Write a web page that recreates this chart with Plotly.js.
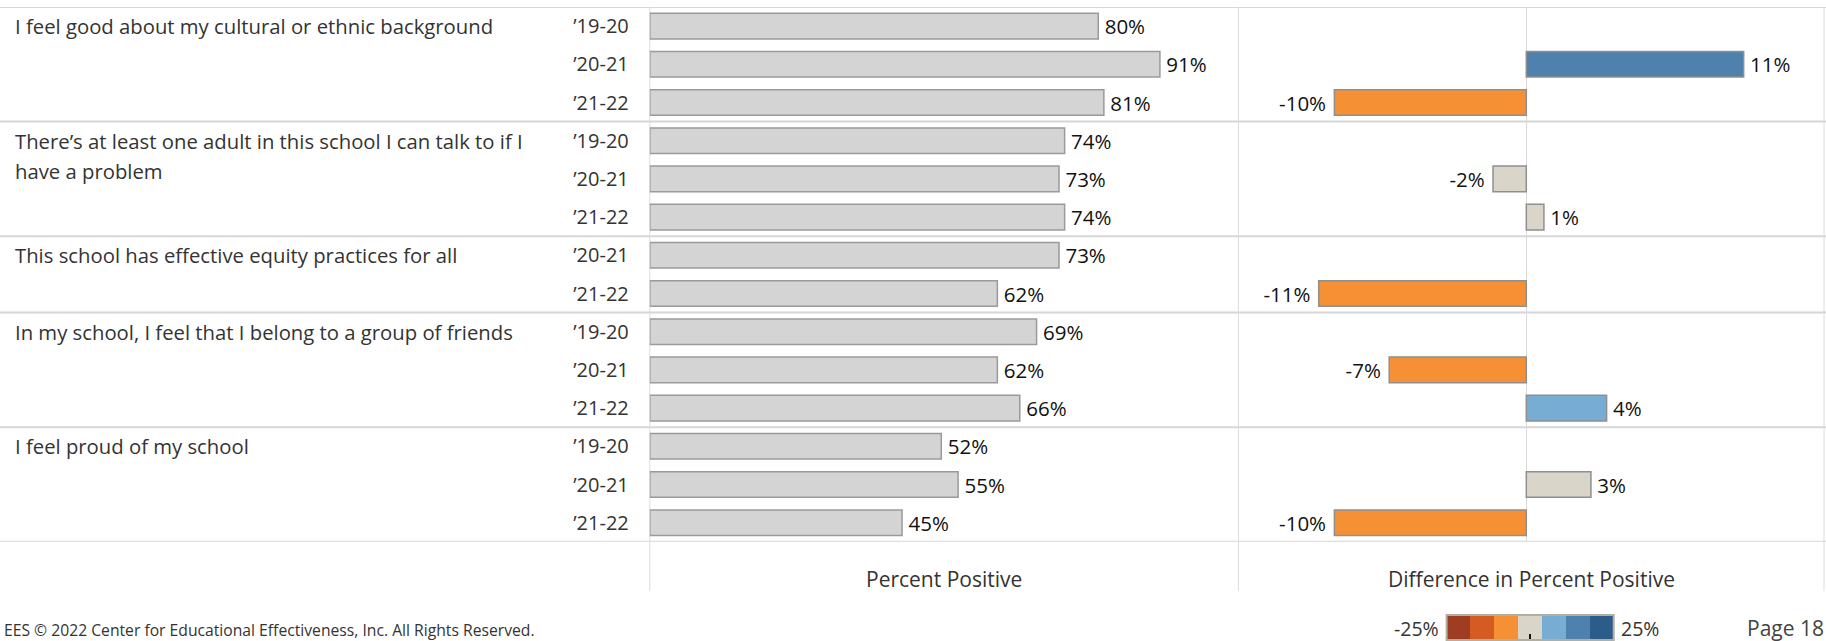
<!DOCTYPE html>
<html>
<head>
<meta charset="utf-8">
<script src="https://cdn.plot.ly/plotly-3.0.1.min.js"></script>
<style>html,body{margin:0;padding:0;background:#fff;}#chart{width:1826px;height:641px;}</style>
</head>
<body>
<div id="chart"></div>
<script>
// ---------- data ----------
const questions = [
  "I feel good about my cultural or ethnic background",
  "There’s at least one adult in this school I can talk to if I have a problem",
  "This school has effective equity practices for all",
  "In my school, I feel that I belong to a group of friends",
  "I feel proud of my school"
];
const yearLabels = [
  ["’19-20", "’20-21", "’21-22"],
  ["’19-20", "’20-21", "’21-22"],
  ["’20-21", "’21-22"],
  ["’19-20", "’20-21", "’21-22"],
  ["’19-20", "’20-21", "’21-22"]
];
const percentPositive = [
  [80, 91, 81],
  [74, 73, 74],
  [73, 62],
  [69, 62, 66],
  [52, 55, 45]
];
const differenceInPercentPositive = [
  [null, 11.1, -9.8],
  [null, -1.7, 0.9],
  [null, -10.6],
  [null, -7.0, 4.1],
  [null, 3.3, -9.8]
];
const legendMin = -25, legendMax = 25;
const divergingColors = ["#9E3D22", "#D45B21", "#F69035", "#D9D5C9", "#77ACD3", "#4F81AF", "#2B5C8A"];

// ---------- helpers ----------
const FONT = "'Open Sans', 'Noto Sans', sans-serif";
const W = 1826, H = 641;
const px = x => x / W;
const py = y => (H - y) / H;

const rowIdx = [], rowYear = [], rowPct = [], rowDiff = [], groupStart = [], groupEnd = [];
let r = 0;
questions.forEach((q, g) => {
  groupStart.push(r);
  yearLabels[g].forEach((yl, i) => {
    rowIdx.push(r);
    rowYear.push(yl);
    rowPct.push(percentPositive[g][i]);
    rowDiff.push(differenceInPercentPositive[g][i]);
    r++;
  });
  groupEnd.push(r - 1);
});
const nRows = r;

// stepped colorscale
const cs = [];
divergingColors.forEach((c, i) => {
  cs.push([i / divergingColors.length, c]);
  cs.push([(i + 1) / divergingColors.length, c]);
});

const thin = "\u2009", nb = "\u00a0";
const pctText = rowPct.map(v => thin + v + "%");
const diffText = rowDiff.map(v => v === null ? "" : (v >= 0 ? thin + Math.round(v) + "%" : Math.round(v) + "%" + nb));

const diffIdx = rowIdx.filter((_, i) => rowDiff[i] !== null);
const diffVals = rowDiff.filter(v => v !== null);
const diffTxt = diffText.filter((_, i) => rowDiff[i] !== null);

// legend bins
const nSteps = divergingColors.length;
const stepW = (legendMax - legendMin) / nSteps;
const legendX = divergingColors.map((_, i) => legendMin + stepW * (i + 0.5));

const LABEL_SIZE = 20.5, TEXT_SIZE = 20.3;

const traces = [
  {
    type: "bar", orientation: "h",
    x: rowPct, y: rowIdx, xaxis: "x", yaxis: "y",
    width: 0.67,
    marker: { color: "#D4D4D4", line: { color: "#9A9A9A", width: 1.5 } },
    text: pctText, textposition: "outside", constraintext: "none", cliponaxis: false,
    textfont: { family: FONT, size: LABEL_SIZE, color: "#111" },
    hoverinfo: "skip", showlegend: false
  },
  {
    type: "bar", orientation: "h",
    x: diffVals, y: diffIdx, xaxis: "x2", yaxis: "y2",
    width: 0.67,
    marker: { color: diffVals, colorscale: cs, cmin: legendMin, cmax: legendMax, showscale: false,
              line: { color: "#8F8F8F", width: 1.5 } },
    text: diffTxt, textposition: "outside", constraintext: "none", cliponaxis: false,
    textfont: { family: FONT, size: LABEL_SIZE, color: "#111" },
    hoverinfo: "skip", showlegend: false
  },
  {
    type: "heatmap", x: legendX, y: [0], z: [legendX],
    xaxis: "x3", yaxis: "y3",
    colorscale: cs, zmin: legendMin, zmax: legendMax, showscale: false, hoverinfo: "skip"
  }
];

// ---------- shapes ----------
const shapes = [];
const boundaries = [-0.5].concat(groupEnd.map(e => e + 0.5));
boundaries.forEach(b => shapes.push({
  type: "line", xref: "paper", x0: 0, x1: 1, yref: "y", y0: b, y1: b,
  line: { color: "#D6D6D6", width: 2 }, layer: "below"
}));
[["x domain", 0], ["x2 domain", 0], ["x2 domain", 1]].forEach(([ref, xv]) => shapes.push({
  type: "line", xref: ref, x0: xv, x1: xv, yref: "paper", y0: py(591), y1: py(7),
  line: { color: "#DCDCDC", width: 1 }, layer: "below"
}));
shapes.push({
  type: "rect", xref: "x3 domain", x0: 0, x1: 1, yref: "y3 domain", y0: 0, y1: 1,
  line: { color: "#B2AEA2", width: 2 }
});

// ---------- annotations ----------
const annotations = [];
function wrap(text, maxChars) {
  const words = text.split(" "); const lines = []; let cur = "";
  words.forEach(w => {
    const t = cur ? cur + " " + w : w;
    if (t.length > maxChars && cur) { lines.push(cur); cur = w; } else cur = t;
  });
  lines.push(cur); return lines;
}
questions.forEach((q, g) => {
  wrap(q, 60).forEach((line, k) => annotations.push({
    text: line, xref: "paper", x: px(13), xanchor: "left",
    yref: "y", y: groupStart[g], yanchor: "middle", yshift: -30 * k,
    showarrow: false, font: { family: FONT, size: TEXT_SIZE, color: "#333" }
  }));
});
annotations.push({ text: "Percent Positive", xref: "x domain", x: 0.5, yref: "paper", y: py(579),
  yanchor: "middle", showarrow: false, font: { family: FONT, size: 21, color: "#333" } });
annotations.push({ text: "Difference in Percent Positive", xref: "x2 domain", x: 0.5, yref: "paper", y: py(579),
  yanchor: "middle", showarrow: false, font: { family: FONT, size: 21, color: "#333" } });
annotations.push({ text: legendMin + "%", xref: "paper", x: px(1441), xanchor: "right", yref: "paper", y: py(628),
  yanchor: "middle", showarrow: false, font: { family: FONT, size: 19.5, color: "#333" } });
annotations.push({ text: legendMax + "%", xref: "paper", x: px(1619), xanchor: "left", yref: "paper", y: py(628),
  yanchor: "middle", showarrow: false, font: { family: FONT, size: 19.5, color: "#333" } });
annotations.push({ text: "EES © 2022 Center for Educational Effectiveness, Inc. All Rights Reserved.",
  xref: "paper", x: px(2), xanchor: "left", yref: "paper", y: py(630), yanchor: "middle",
  showarrow: false, font: { family: FONT, size: 15.7, color: "#333" } });
annotations.push({ text: "Page 18", xref: "paper", x: px(1745), xanchor: "left", yref: "paper", y: py(628),
  yanchor: "middle", showarrow: false, font: { family: FONT, size: 21, color: "#444" } });

const layout = {
  width: W, height: H,
  margin: { l: 0, r: 0, t: 0, b: 0, pad: 0 },
  paper_bgcolor: "#fff", plot_bgcolor: "rgba(0,0,0,0)",
  showlegend: false, bargap: 0,
  font: { family: FONT, color: "#333" },
  xaxis: { domain: [px(649.8), px(1238.4)], range: [0, 105], anchor: "y",
           showgrid: false, zeroline: false, showticklabels: false, ticks: "", fixedrange: true },
  yaxis: { domain: [py(541.8), py(7)], range: [nRows - 0.5, -0.5], anchor: "x",
           tickmode: "array", tickvals: rowIdx, ticktext: rowYear,
           ticks: "outside", ticklen: 16, tickcolor: "rgba(0,0,0,0)",
           tickfont: { family: FONT, size: 20, color: "#333" },
           showgrid: false, zeroline: false, showline: false, fixedrange: true },
  xaxis2: { domain: [px(1238.4), px(1824)], range: [-14.7, 15.2], anchor: "y2",
            showgrid: false, zeroline: true, zerolinecolor: "#DADADA", zerolinewidth: 1,
            showticklabels: false, ticks: "", fixedrange: true },
  yaxis2: { domain: [py(541.8), py(7)], range: [nRows - 0.5, -0.5], anchor: "x2",
            showticklabels: false, showgrid: false, zeroline: false, ticks: "", fixedrange: true },
  xaxis3: { domain: [px(1446.6), px(1613.7)], range: [legendMin, legendMax], anchor: "y3",
            showgrid: false, zeroline: false, showticklabels: false,
            tickmode: "array", tickvals: [0], ticks: "inside", ticklen: 6, tickwidth: 1.5, tickcolor: "#111",
            fixedrange: true },
  yaxis3: { domain: [py(640), py(615)], range: [-0.5, 0.5], anchor: "x3",
            showgrid: false, zeroline: false, showticklabels: false, ticks: "", fixedrange: true },
  shapes: shapes,
  annotations: annotations
};

Plotly.newPlot("chart", traces, layout, { displayModeBar: false, staticPlot: true });
</script>
</body>
</html>
